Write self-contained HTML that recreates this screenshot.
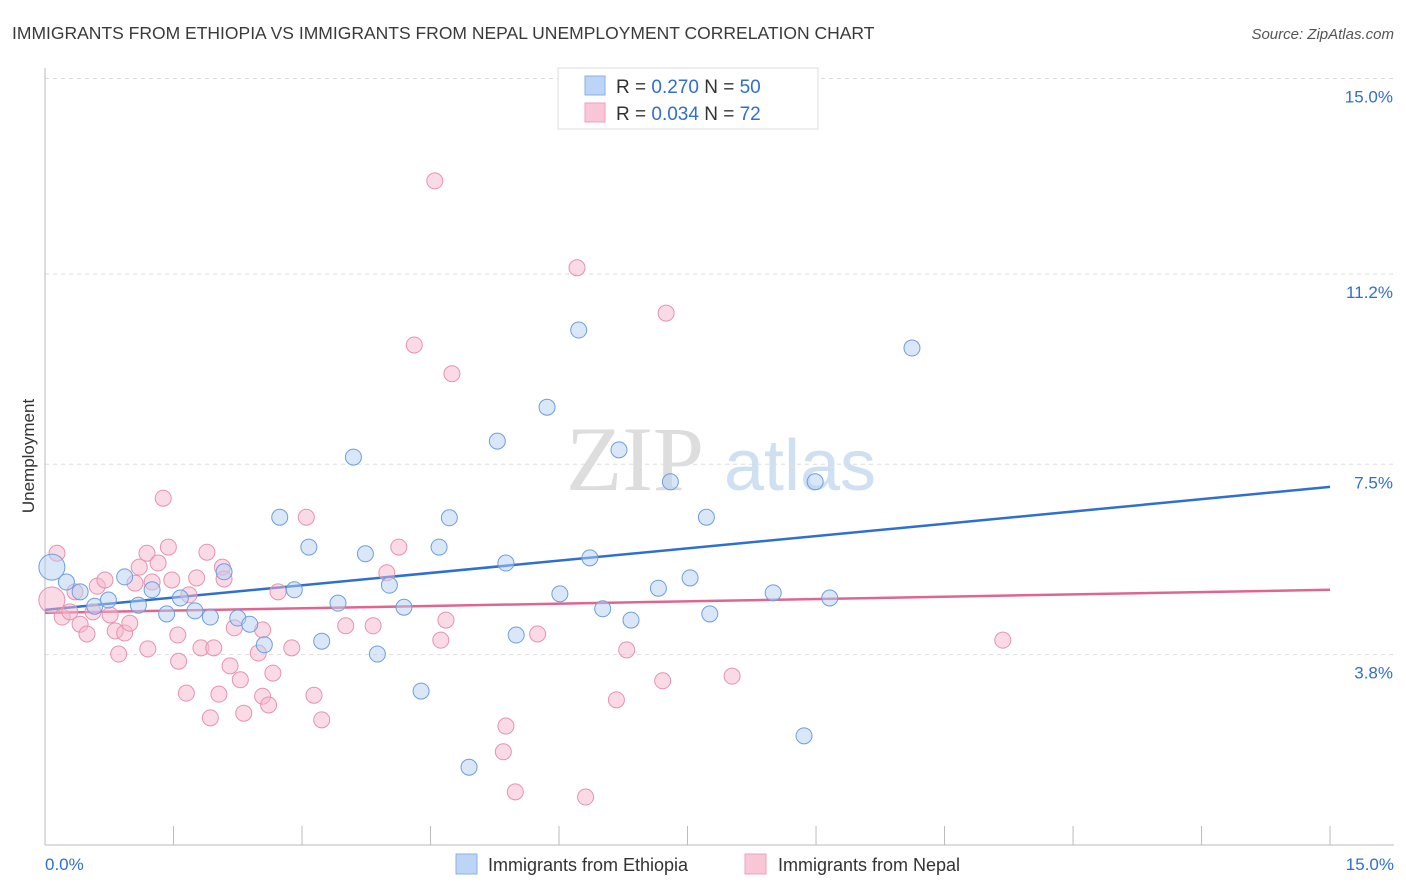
<!DOCTYPE html>
<html><head><meta charset="utf-8"><style>
body{margin:0;background:#fff;font-family:"Liberation Sans",sans-serif;}
svg{display:block}
</style></head><body>
<svg id="chart" width="1406" height="892">
<text x="12" y="39" font-size="17.5" fill="#3a3a3a">IMMIGRANTS FROM ETHIOPIA VS IMMIGRANTS FROM NEPAL UNEMPLOYMENT CORRELATION CHART</text>
<text x="1394" y="39" font-size="15" fill="#555" font-style="italic" text-anchor="end">Source: ZipAtlas.com</text>
<text x="34" y="456" font-size="17" fill="#333" transform="rotate(-90 34 456)" text-anchor="middle">Unemployment</text>
<g><text x="635" y="490" font-size="92" fill="#ddd" font-family="Liberation Serif" text-anchor="middle">ZIP</text><text x="800" y="490" font-size="72" fill="#cfe0f3" text-anchor="middle">atlas</text></g>
<g id="grid"></g><g id="axes"></g><g id="lines"></g><g id="pts"></g>
<g>
<rect x="558" y="68" width="260" height="61" fill="#fff" stroke="#ddd"/>
<rect x="585" y="76" width="20" height="19" fill="#bcd4f5" stroke="#8ab0e6"/>
<rect x="585" y="103" width="20" height="19" fill="#f9c6d6" stroke="#eea0b8"/>
<text x="616" y="93" font-size="19" fill="#333">R = <tspan fill="#2f6fd1">0.270</tspan>   N = <tspan fill="#2f6fd1">50</tspan></text>
<text x="616" y="120" font-size="19" fill="#333">R = <tspan fill="#2f6fd1">0.034</tspan>   N = <tspan fill="#2f6fd1"> 72</tspan></text>
</g>
<g>
<rect x="456" y="854" width="21" height="20" fill="#bcd4f5" stroke="#8ab0e6"/>
<text x="488" y="871" font-size="18" fill="#333">Immigrants from Ethiopia</text>
<rect x="745" y="854" width="21" height="20" fill="#f9c6d6" stroke="#eea0b8"/>
<text x="778" y="871" font-size="18" fill="#333">Immigrants from Nepal</text>
</g>
</svg>
<script>
const yTicks=[3.8,7.5,11.2,15.0];
const yTickLabels=["3.8%","7.5%","11.2%","15.0%"];
const xTickLabels=["0.0%","15.0%"];
const ethX=[0.08,0.25,0.41,0.58,0.74,0.93,1.09,1.25,1.42,1.58,1.75,1.93,2.09,2.25,2.39,2.56,2.74,2.91,3.08,3.23,3.42,3.60,3.74,3.88,4.02,4.19,4.39,4.60,4.72,4.95,5.28,5.38,5.50,5.86,6.01,6.23,6.36,6.51,6.70,6.84,7.16,7.30,7.53,7.72,7.76,8.50,8.86,8.99,9.16,10.12];
const ethY=[5.50,5.21,5.02,4.74,4.86,5.31,4.76,5.06,4.59,4.90,4.65,4.53,5.41,4.51,4.39,3.99,6.47,5.06,5.89,4.06,4.80,7.64,5.76,3.81,5.15,4.72,3.09,5.89,6.46,1.61,7.95,5.58,4.18,8.61,4.98,10.11,5.68,4.69,7.78,4.47,5.09,7.16,5.29,6.47,4.59,5.00,2.22,7.16,4.90,9.76];
const nepX=[0.08,0.14,0.20,0.29,0.35,0.41,0.49,0.56,0.61,0.70,0.76,0.82,0.86,0.93,0.99,1.05,1.10,1.19,1.20,1.25,1.32,1.38,1.44,1.48,1.55,1.56,1.65,1.68,1.77,1.82,1.89,1.93,1.97,2.03,2.07,2.09,2.16,2.21,2.28,2.32,2.49,2.54,2.54,2.61,2.66,2.72,2.88,3.05,3.14,3.23,3.51,3.83,3.99,4.13,4.31,4.55,4.62,4.68,4.75,5.38,5.35,5.49,5.75,6.21,6.31,6.67,6.79,7.21,7.25,8.02,11.18];
const nepY=[4.86,5.77,4.53,4.63,5.02,4.39,4.20,4.63,5.13,5.25,4.57,4.26,3.81,4.22,4.41,5.19,5.50,5.77,3.91,5.21,5.58,6.84,5.89,5.25,4.18,3.67,3.05,4.96,5.29,3.93,5.79,2.57,3.93,3.03,5.50,5.27,3.58,4.32,3.31,2.66,3.83,2.99,4.28,2.82,3.44,5.02,3.93,6.47,3.01,2.53,4.36,4.36,5.39,5.89,9.82,13.01,4.08,4.47,9.26,2.41,1.91,1.13,4.20,11.32,1.03,2.92,3.89,3.29,10.44,3.38,4.08];
const ethTrend=[4.67,7.06];
const nepTrend=[4.61,5.06];
const NS="http://www.w3.org/2000/svg";
const sx=v=>45+v*85.67, sy=v=>850-v*51.43;
function mk(tag,attrs,parent){const e=document.createElementNS(NS,tag);for(const k in attrs)e.setAttribute(k,attrs[k]);document.getElementById(parent).appendChild(e);return e;}
yTicks.forEach((t,i)=>{
 const g=mk('line',{x1:45,x2:1394,y1:sy(t),y2:sy(t),stroke:'#ddd','stroke-dasharray':'4,4'},'grid');
 
 
 const l=mk('text',{x:1393,y:sy(t)+24,'font-size':17,fill:'#2f6fd1','text-anchor':'end'},'axes');
 l.textContent=yTickLabels[i];
 
 
});
const ax=mk('line',{x1:45,x2:45,y1:68,y2:845,stroke:'#bbb'},'axes');


const bx=mk('line',{x1:45,x2:1394,y1:845,y2:845,stroke:'#bbb'},'axes');


for(let i=0;i<=10;i++){
 const v=i*1.5;
 const t=mk('line',{x1:sx(v),x2:sx(v),y1:826,y2:845,stroke:'#bbb'},'axes');
 
 
}
[[0,'start',45],[15,'end',1394]].forEach((d,i)=>{
 const l=mk('text',{x:d[2],y:870,'font-size':17,fill:'#2f6fd1','text-anchor':d[1]},'axes');
 l.textContent=xTickLabels[i];
 
 
});
function dots(X,Y,fill,stroke,name){
 X.forEach((x,i)=>{
  const r=i===0?13:8;
  const c=mk('circle',{cx:sx(x),cy:sy(Y[i]),r:r,fill:fill,'fill-opacity':0.5,stroke:stroke,'stroke-width':1},'pts');
  
  
 });
}
dots(nepX,nepY,'#f6b8cc','#e892ae','nepal-point');
dots(ethX,ethY,'#b5cff3','#6d9ee0','ethiopia-point');
const l1=mk('line',{x1:sx(0),x2:sx(15),y1:sy(ethTrend[0]),y2:sy(ethTrend[1]),stroke:'#2f6fd1','stroke-width':2.5},'lines');


const l2=mk('line',{x1:sx(0),x2:sx(15),y1:sy(nepTrend[0]),y2:sy(nepTrend[1]),stroke:'#e0668f','stroke-width':2.5},'lines');


</script>
</body></html>
